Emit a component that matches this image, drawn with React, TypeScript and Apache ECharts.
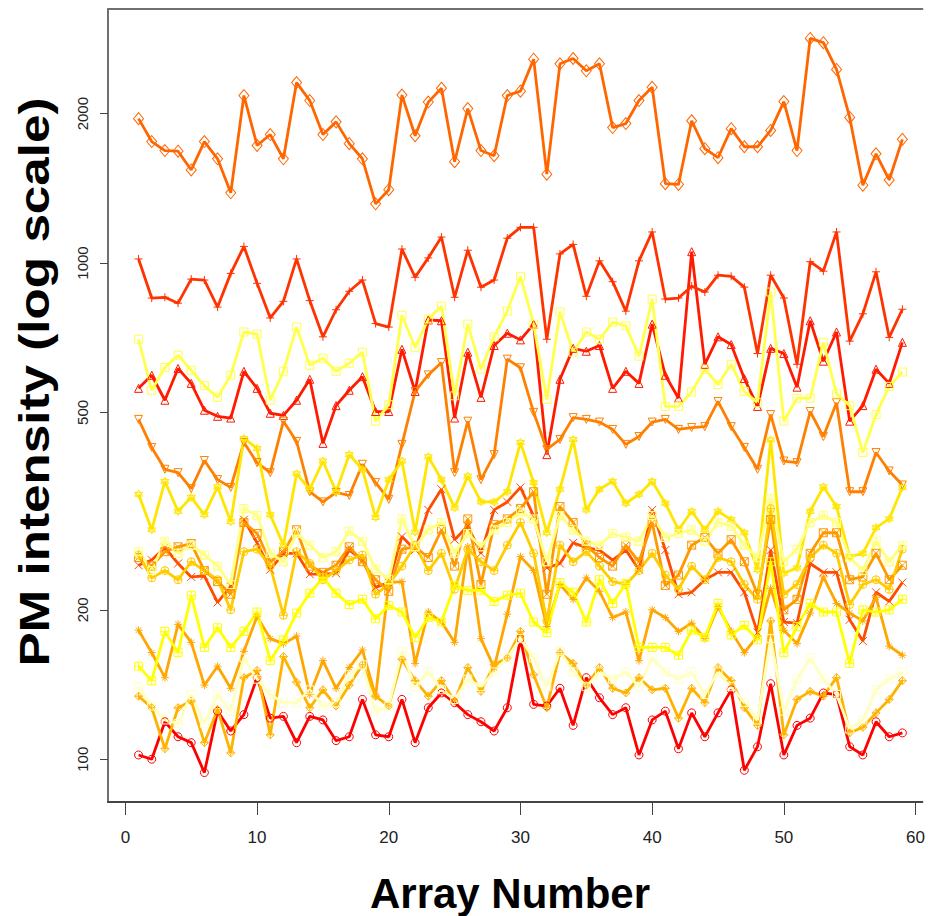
import React, { useEffect, useRef } from "react";
import * as echarts from "echarts";

const arrayNumbers = [
  1, 2, 3, 4, 5, 6, 7, 8, 9, 10, 11, 12, 13, 14, 15, 16, 17, 18, 19, 20,
  21, 22, 23, 24, 25, 26, 27, 28, 29, 30, 31, 32, 33, 34, 35, 36, 37, 38, 39, 40,
  41, 42, 43, 44, 45, 46, 47, 48, 49, 50, 51, 52, 53, 54, 55, 56, 57, 58, 59,
];
const xTicks = [0, 10, 20, 30, 40, 50, 60];
const yTicks = [100, 200, 500, 1000, 2000];

const s1 = [102,100,119,111,108,94,125,114,123,146, 121,122,108,122,120,109,111,132,112,111, 132,108,127,136,130,123,119,114,127,175, 129,128,139,117,146,133,123,127,102,120, 125,105,124,111,124,138,95,106,142,102, 117,121,136,135,106,102,119,111,113];
const s2 = [559,594,529,613,572,505,491,487,605,559, 498,493,529,583,433,516,554,590,502,502, 670,551,768,765,487,661,536,682,722,700, 753,411,583,673,664,682,559,605,572,753, 594,534,1054,625,710,685,585,514,673,657, 562,765,634,726,480,516,611,572,692];
const s3 = [1019,850,853,830,928,924,815,953,1080,910, 775,837,1019,840,710,805,877,924,755,743, 1067,936,1024,1128,853,1061,894,924,1122,1180, 1180,702,1043,1090,857,1010,917,800,1010,1155, 846,850,898,874,945,940,894,657,945,850, 625,1006,963,1155,696,790,960,708,807];
const s4 = [246,252,267,248,233,234,207,223,304,273, 241,260,260,236,236,237,264,252,222,227, 281,264,318,350,277,295,260,318,330,353, 309,243,248,273,267,264,252,264,241,318, 264,215,217,230,238,238,217,180,264,189, 188,248,238,238,191,173,217,208,227];
const s5 = [1954,1757,1685,1680,1540,1757,1622,1385,2175,1725, 1815,1622,2310,2125,1815,1925,1740,1622,1316,1405, 2180,1805,2110,2250,1600,2047,1685,1645,2175,2220, 2575,1510,2520,2583,2440,2520,1875,1910,2125,2260, 1445,1440,1935,1700,1630,1865,1715,1715,1850,2115, 1685,2835,2780,2455,1965,1435,1660,1470,1775];
const s6 = [484,425,384,378,351,400,366,353,435,396, 378,480,437,346,330,345,340,393,361,334, 431,551,595,630,378,480,366,411,640,615, 500,421,441,488,484,478,462,431,447,478, 484,462,466,468,526,468,425,384,495,399, 396,502,447,523,346,346,415,381,357];
const s7 = [255,245,262,268,272,240,228,215,300,285, 250,262,290,245,238,246,268,250,230,218, 265,268,255,290,245,305,225,297,305,320, 346,215,323,300,270,255,245,270,250,300, 224,235,270,280,260,277,250,215,304,200, 210,260,286,286,230,233,260,230,246];
const s8 = [182,164,146,187,172,141,154,139,165,194, 175,171,177,135,158,139,153,166,134,227, 228,156,198,189,172,268,175,153,196,256, 240,185,225,210,232,218,193,198,158,200, 193,181,188,175,203,181,164,177,221,182, 171,197,233,206,197,190,212,169,162];
const s9 = [134,127,105,127,131,108,126,103,146,151, 112,161,143,127,138,128,141,155,134,128, 159,144,134,144,131,153,137,155,160,181, 148,127,164,156,141,153,139,136,146,138, 139,121,139,130,153,144,127,117,190,112, 132,137,134,146,113,116,124,132,144];
const s10 = [258,232,240,230,250,240,230,200,262,265, 245,195,262,248,230,240,252,258,215,225, 245,270,240,260,220,265,250,240,270,300, 260,190,270,250,262,245,228,225,240,260, 235,220,245,230,255,250,225,210,320,215, 225,255,270,260,205,225,230,220,265];
const s11 = [342,290,363,316,337,311,354,301,443,423, 311,270,376,350,399,346,411,384,307,366, 399,287,407,366,321,372,330,330,346,435, 361,286,350,441,318,350,363,328,342,363, 328,290,316,290,316,304,286,241,440,237, 243,316,354,323,256,260,293,305,353];
const s12 = [154,144,181,164,214,168,184,168,181,198, 158,174,197,216,232,216,205,210,192,204, 198,176,193,189,224,219,219,208,214,216, 189,180,227,217,189,230,206,226,168,168, 168,162,182,176,206,178,186,174,250,164, 185,206,198,198,156,200,198,200,210];
const s13 = [702,554,616,652,608,566,536,594,726,719, 529,605,743,622,643,605,628,661,480,518, 785,676,771,818,540,753,611,710,800,940, 753,531,797,661,726,702,760,747,649,846, 514,514,550,611,569,625,551,523,874,480, 534,534,692,545,516,415,495,564,603];
const s14 = [262,240,275,260,270,258,245,225,320,310, 260,250,285,270,255,262,288,275,242,230, 305,268,290,300,260,285,268,290,300,315, 305,250,310,290,275,270,285,280,275,310, 280,285,290,275,300,295,270,255,335,250, 265,300,310,300,255,240,275,250,270];
const s15 = [140,128,120,118,135,118,135,125,160,145, 135,130,130,138,128,130,148,155,125,128, 165,140,150,138,132,145,140,150,160,175, 160,140,165,150,140,150,145,150,140,160, 150,145,150,135,150,140,130,120,175,125, 145,160,145,135,115,120,138,145,150];

const seriesValues = [s1, s2, s3, s4, s5, s6, s7, s8, s9, s10, s11, s12, s13, s14, s15];
const seriesColors = [
  "#FF0000", "#FF1A00", "#FF3300", "#FF4D00", "#FF6600", "#FF8000", "#FF9900",
  "#FFA600", "#FFB300", "#FFCC00", "#FFE600", "#FFFF00", "#FFFF4D", "#FFFF80", "#FFFFBF",
];

const P_PLUS = "path://M5,0L5,10M0,5L10,5";
const P_CROSS = "path://M0,0L10,10M10,0L0,10";
const P_SQX = "path://M0,0L10,0L10,10L0,10ZM0,0L10,10M10,0L0,10";
const P_AST = "path://M5,0L5,10M0,5L10,5M1.5,1.5L8.5,8.5M8.5,1.5L1.5,8.5";
const P_DPLUS = "path://M5,0L10,5L5,10L0,5ZM5,0L5,10M0,5L10,5";
const P_CPLUS = "path://M0,5A5,5,0,1,0,10,5A5,5,0,1,0,0,5ZM5,0L5,10M0,5L10,5";
const P_STAR = "path://M5,0L10,7.5L0,7.5ZM5,10L0,2.5L10,2.5Z";
const P_SQPLUS = "path://M0,0L10,0L10,10L0,10ZM5,0L5,10M0,5L10,5";
const P_SQTRI = "path://M0,0L10,0L10,10L0,10ZM5,0L10,10L0,10Z";

const seriesSymbols = [
  "circle", "triangle", P_PLUS, P_CROSS, "diamond", "triangle", P_SQX, P_AST,
  P_DPLUS, P_CPLUS, P_STAR, P_SQPLUS, "rect", P_SQTRI, "rect",
];
const seriesRotate = [0, 0, 0, 0, 0, 180, 0, 0, 0, 0, 0, 0, 0, 0, 0];

const FONT = "'Liberation Sans', Arial, Helvetica, sans-serif";
const X_MIN = -1.32;
const X_MAX = 60.52;

export default function App() {
  const ref = useRef<HTMLDivElement>(null);
  useEffect(() => {
    if (!ref.current) return;
    const chart = echarts.init(ref.current, null, { renderer: "svg" });
    const series = seriesValues.map((vals, k) => ({
      type: "line",
      name: "S" + (k + 1),
      xAxisIndex: 0,
      data: vals.map((v, i) => [arrayNumbers[i], Math.log10(v)]),
      symbol: seriesSymbols[k],
      symbolSize: seriesSymbols[k] === "diamond" ? [10, 12] : 8,
      symbolRotate: seriesRotate[k],
      showSymbol: true,
      showAllSymbol: true,
      lineStyle: { color: seriesColors[k], width: 2.8 },
      itemStyle: { color: "rgba(255,255,255,0)", borderColor: seriesColors[k], borderWidth: 1 },
      emphasis: { disabled: true },
      silent: true,
    }));
    const option = {
      animation: false,
      backgroundColor: "#ffffff",
      grid: {
        left: 108,
        right: 0,
        top: 9,
        bottom: 114,
        show: false,
      },
      xAxis: [
        {
          type: "value",
          min: X_MIN,
          max: X_MAX,
          position: "bottom",
          axisLine: { show: true, onZero: false, lineStyle: { color: "#444", width: 2 } },
          axisTick: { show: true, customValues: xTicks, length: 13, lineStyle: { color: "#444", width: 1 } },
          axisLabel: {
            customValues: xTicks,
            fontSize: 17,
            margin: 27,
            color: "#222",
            fontFamily: FONT,
          },
          splitLine: { show: false },
        },
        {
          type: "value",
          min: X_MIN,
          max: X_MAX,
          position: "top",
          axisLine: { show: true, onZero: false, lineStyle: { color: "#707070", width: 2 } },
          axisTick: { show: false },
          axisLabel: { show: false },
          splitLine: { show: false },
        },
      ],
      yAxis: {
        type: "value",
        min: Math.log10(82),
        max: Math.log10(3250),
        axisLine: { show: true, onZero: false, lineStyle: { color: "#707070", width: 2 } },
        axisTick: {
          show: true,
          customValues: yTicks.map((v) => Math.log10(v)),
          length: 8,
          lineStyle: { color: "#444", width: 1 },
        },
        axisLabel: {
          customValues: yTicks.map((v) => Math.log10(v)),
          rotate: 90,
          fontSize: 15,
          margin: 18,
          color: "#222",
          fontFamily: FONT,
          formatter: (v: number) => String(Math.round(Math.pow(10, v))),
        },
        splitLine: { show: false },
      },
      graphic: [
        {
          type: "text",
          x: 510,
          y: 893,
          style: {
            text: "Array Number",
            font: `bold 42px ${FONT}`,
            fill: "#000",
            textAlign: "center",
            textVerticalAlign: "middle",
          },
        },
        {
          type: "text",
          x: 35,
          y: 382,
          rotation: Math.PI / 2,
          scaleX: 1.22,
          style: {
            text: "PM intensity (log scale)",
            font: `bold 42px ${FONT}`,
            fill: "#000",
            textAlign: "center",
            textVerticalAlign: "middle",
          },
        },
      ],
      series,
    };
    chart.setOption(option as any);
    return () => chart.dispose();
  }, []);
  return (
    <div
      ref={ref}
      style={{ position: "fixed", left: 0, top: 0, width: 928, height: 916, background: "#fff" }}
    />
  );
}
